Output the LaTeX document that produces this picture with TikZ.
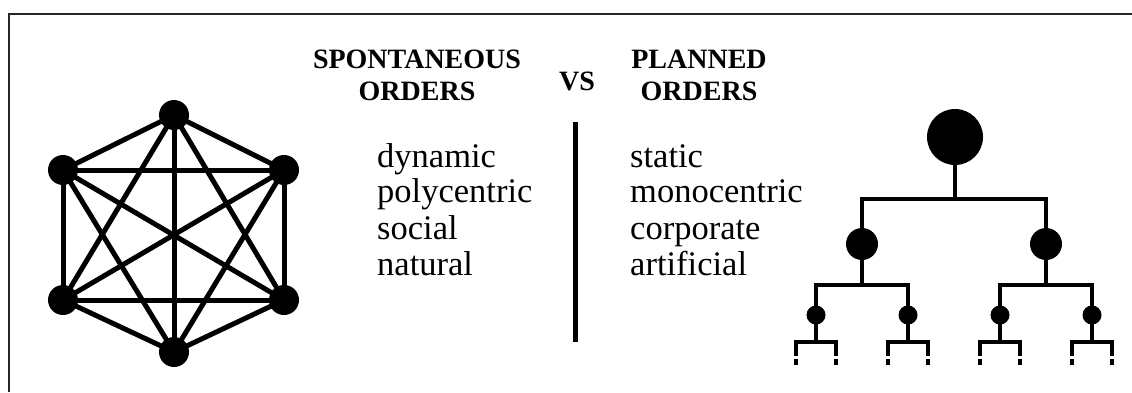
\documentclass[tikz,border=0pt]{standalone}
\usepackage{fontspec}
\setmainfont{Liberation Serif}
\usetikzlibrary{calc}
\begin{document}
\begin{tikzpicture}[x=1pt,y=-1pt,
  vtx/.style={circle,fill=black,inner sep=0pt,minimum size=30pt},
  edge/.style={line width=5pt},
  tline/.style={line width=4.6pt,line join=miter},
  head/.style={font=\fontsize{28}{30}\selectfont\bfseries,anchor=base,inner sep=0pt},
  word/.style={font=\fontsize{34.5}{36}\selectfont,anchor=base west,inner sep=0pt},
  frame/.style={line width=2pt,draw=black!85}]
\useasboundingbox (0,0) rectangle (1132,392);
% frame
\coordinate (fa) at (9,392);
\coordinate (fb) at (9,14);
\coordinate (fc) at (1132,14);
\draw[frame] (fa) -- (fb) -- (fc);
% complete graph
\node[vtx] (t) at (174,115) {};
\node[vtx] (ul) at (63,170) {};
\node[vtx] (ur) at (284,170) {};
\node[vtx] (ll) at (63,300) {};
\node[vtx] (lr) at (284,300) {};
\node[vtx] (b) at (174,352) {};
\foreach \p/\q in {t/ul,t/ur,t/ll,t/lr,t/b,ul/ur,ul/ll,ul/lr,ul/b,ur/ll,ur/lr,ur/b,ll/lr,ll/b,lr/b}
  \draw[edge] (\p.center) -- (\q.center);
% headings
\node[head] (h1) at (417,68) {SPONTANEOUS};
\node[head] (h2) at (417,100) {ORDERS};
\node[head] (vs) at (577,90) {VS};
\node[head] (h3) at (699,68) {PLANNED};
\node[head] (h4) at (699,100) {ORDERS};
% divider
\coordinate (d1) at (575,122);
\coordinate (d2) at (575,342);
\draw[line width=5pt] (d1) -- (d2);
% word lists
\node[word] (w1) at (377,167) {dynamic};
\node[word] (w2) at (377,202) {polycentric};
\node[word] (w3) at (377,239) {social};
\node[word] (w4) at (377,275) {natural};
\node[word] (p1) at (630,167) {static};
\node[word] (p2) at (630,202) {monocentric};
\node[word] (p3) at (630,239) {corporate};
\node[word] (p4) at (630,275) {artificial};
% tree
\node[circle,fill=black,inner sep=0pt,minimum size=56pt] (root) at (955,137) {};
\node[circle,fill=black,inner sep=0pt,minimum size=32pt] (m1) at (862,244) {};
\node[circle,fill=black,inner sep=0pt,minimum size=32pt] (m2) at (1046,244) {};
\coordinate (r0) at (955,199);
\draw[tline] (root.center) -- (r0);
\draw[tline] (m1.center) |- (r0) -| (m2.center);
\foreach \m/\s/\sa/\sb in {m1/a/816/908,m2/b/1000/1092}{
  \node[circle,fill=black,inner sep=0pt,minimum size=19pt] (\s1) at (\sa,315) {};
  \node[circle,fill=black,inner sep=0pt,minimum size=19pt] (\s2) at (\sb,315) {};
  \coordinate (\s0) at ($(\m.center)+(0,41)$);
  \draw[tline] (\m.center) -- (\s0);
  \draw[tline] (\s1.center) |- (\s0) -| (\s2.center);
}
\foreach \s in {a1,a2,b1,b2}{
  \coordinate (\s c) at ($(\s.center)+(0,27)$);
  \coordinate (\s l) at ($(\s c)+(-20,0)$);
  \coordinate (\s r) at ($(\s c)+(20,0)$);
  \coordinate (\s L) at ($(\s l)+(0,14)$);
  \coordinate (\s R) at ($(\s r)+(0,14)$);
  \coordinate (\s Lx) at ($(\s l)+(0,17)$);
  \coordinate (\s Ly) at ($(\s l)+(0,23)$);
  \coordinate (\s Rx) at ($(\s r)+(0,17)$);
  \coordinate (\s Ry) at ($(\s r)+(0,23)$);
  \draw[tline] (\s.center) -- (\s c);
  \draw[tline] (\s L) -- (\s l) -- (\s r) -- (\s R);
  \draw[tline] (\s Lx) -- (\s Ly);
  \draw[tline] (\s Rx) -- (\s Ry);
}
\end{tikzpicture}
\end{document}
